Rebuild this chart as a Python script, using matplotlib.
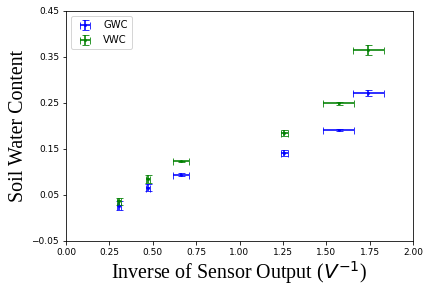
import matplotlib
matplotlib.use("Agg")
import matplotlib.pyplot as plt
import numpy as np

x = [0.307, 0.474, 0.665, 1.258, 1.573, 1.743]
x_err = [0.012, 0.013, 0.046, 0.019, 0.089, 0.091]
gwc = [0.027, 0.066, 0.094, 0.141, 0.191, 0.272]
gwc_err = [0.009, 0.008, 0.003, 0.006, 0.002, 0.007]
vwc = [0.036, 0.085, 0.123, 0.185, 0.249, 0.365]
vwc_err = [0.007, 0.009, 0.002, 0.007, 0.003, 0.011]
xticks = [0.00, 0.25, 0.50, 0.75, 1.00, 1.25, 1.50, 1.75, 2.00]
yticks = [-0.05, 0.05, 0.15, 0.25, 0.35, 0.45]

fig = plt.figure(figsize=(430/72, 295/72), dpi=72)
ax = fig.add_axes([66/430, 1-241/295, 347/430, 230/295])
ax.errorbar(x, gwc, xerr=x_err, yerr=gwc_err, fmt='.', color='blue', alpha=0.8,
            capsize=3.5, elinewidth=2, markersize=4, label='GWC')
ax.errorbar(x, vwc, xerr=x_err, yerr=vwc_err, fmt='.', color='green', alpha=0.8,
            capsize=3.5, elinewidth=2, markersize=4, label='VWC')
ax.set_xlim(0, 2)
ax.set_ylim(-0.05, 0.45)
ax.set_xticks(xticks)
ax.set_yticks(yticks)
ax.tick_params(labelsize=9)
ax.set_xlabel('Inverse of Sensor Output ($V^{-1}$)', fontsize=20, family='Liberation Serif', labelpad=2)
ax.set_ylabel('Soil Water Content', fontsize=20, family='Liberation Serif', labelpad=3)
ax.legend(loc='upper left', fontsize=10)
fig.savefig('out.png', dpi=72)
